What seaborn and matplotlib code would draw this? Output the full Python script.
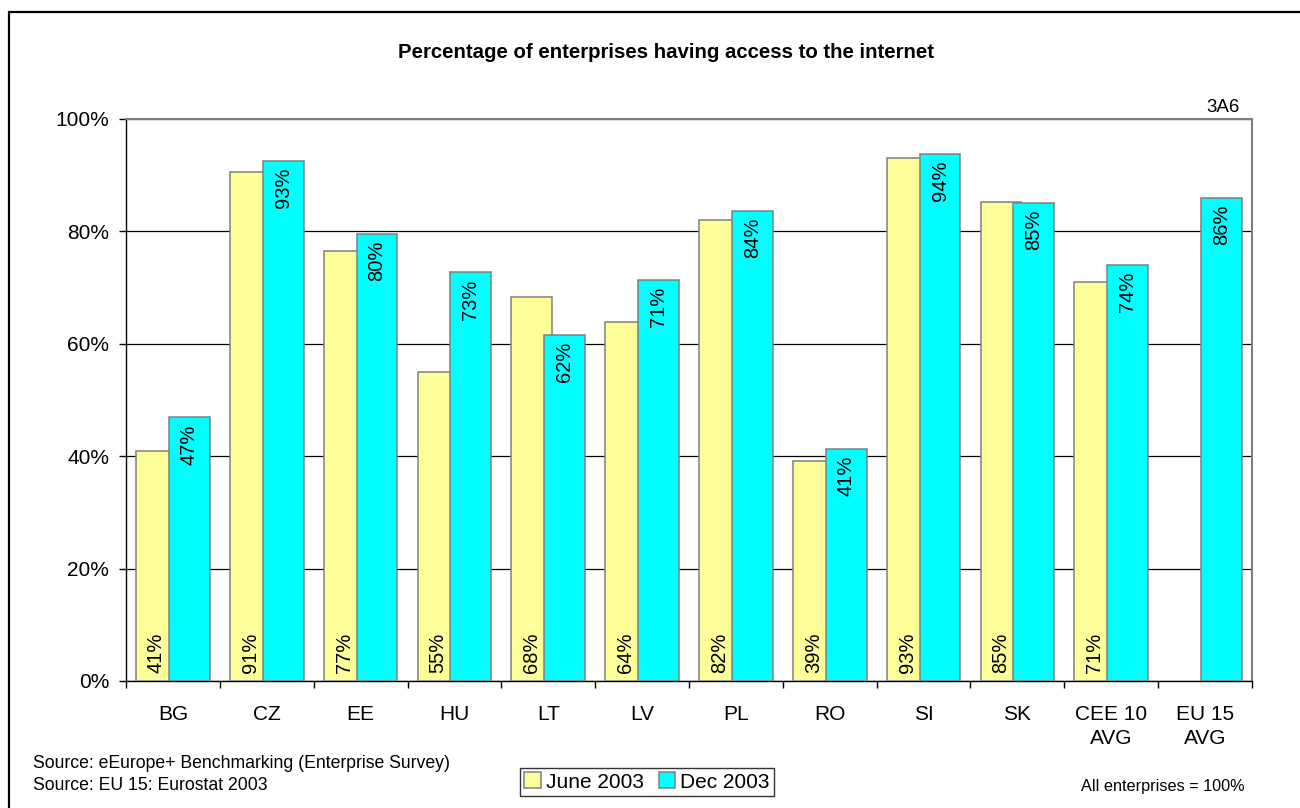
import numpy as np
import matplotlib
matplotlib.use("Agg")
import matplotlib.pyplot as plt
import seaborn as sns
from matplotlib.patches import Rectangle, Patch
from matplotlib.ticker import FuncFormatter

# Share of enterprises with internet access (%)
countries = ["BG", "CZ", "EE", "HU", "LT", "LV", "PL", "RO", "SI", "SK",
             "CEE 10\nAVG", "EU 15\nAVG"]
june_2003 = [40.9, 90.6, 76.6, 55.0, 68.3, 63.9, 82.1, 39.2, 93.1, 85.2, 71.0, np.nan]
dec_2003 = [46.9, 92.6, 79.6, 72.7, 61.6, 71.4, 83.6, 41.3, 93.8, 85.1, 74.0, 85.9]
series_names = ["June 2003", "Dec 2003"]
series_colors = ["#FFFF99", "#00FFFF"]
y_ticks = [0, 20, 40, 60, 80, 100]

sns.set_theme(style="white")
plt.rcParams["font.family"] = ["Liberation Sans", "DejaVu Sans"]
plt.rcParams.update({"text.color": "black", "xtick.color": "black",
                     "ytick.color": "black", "axes.labelcolor": "black"})

W, H = 1300, 808
fig = plt.figure(figsize=(W / 100, H / 100), dpi=100)
fig.patch.set_facecolor("white")
ax = fig.add_axes([126 / W, 1 - 681 / H, (1252 - 126) / W, (681 - 119) / H])

edge = "#808080"
bar_w = 0.435
offset = 0.175
all_series = [june_2003, dec_2003]
for vals, color, shift in zip(all_series, series_colors, [-offset, offset]):
    n_before = len(ax.patches)
    sns.barplot(x=countries, y=vals, order=countries, color=color, width=bar_w,
                edgecolor=edge, linewidth=1.1, saturation=1, errorbar=None,
                ax=ax, zorder=3)
    # overlapping clustered bars: move each series off the category centre
    for p in ax.patches[n_before:]:
        p.set_x(p.get_x() + shift)

# value labels, rotated: June at the foot of the bar, December at its top
for i, v in enumerate(june_2003):
    if not np.isnan(v):
        ax.text(i - offset, 1.5, f"{v:.0f}%", rotation=90, ha="center",
                va="bottom", fontsize=14.5, color="black", zorder=4)
for i, v in enumerate(dec_2003):
    if not np.isnan(v):
        ax.text(i + offset, v - 1.2, f"{v:.0f}%", rotation=90, ha="center",
                va="top", fontsize=14.5, color="black", zorder=4)

ax.set_xlim(-0.5, len(countries) - 0.5)
ax.set_ylim(0, 100)
ax.set_yticks(y_ticks)
ax.yaxis.set_major_formatter(FuncFormatter(lambda v, _: f"{v:.0f}%"))
ax.set_xlabel("")
ax.set_ylabel("")

# tick marks between categories, labels centred under each category
ax.set_xticks(np.arange(-0.5, len(countries), 1))
ax.set_xticklabels([])
ax.set_xticks(np.arange(len(countries)), minor=True)
ax.set_xticklabels(countries, minor=True, fontsize=15, linespacing=1.35)
ax.tick_params(axis="x", which="major", bottom=True, length=5, width=1,
               color="black", direction="out")
ax.tick_params(axis="x", which="minor", bottom=True, length=0, pad=17)
ax.tick_params(axis="y", left=True, length=5, width=1, color="black",
               direction="out", labelsize=15, pad=7)

ax.set_axisbelow(True)
ax.yaxis.grid(True, color="black", linewidth=0.9)
ax.xaxis.grid(False)
for side in ["left", "bottom"]:
    ax.spines[side].set_color("black")
    ax.spines[side].set_linewidth(1.0)
for side in ["top", "right"]:
    ax.spines[side].set_color(edge)
    ax.spines[side].set_linewidth(1.5)
ax.set_facecolor("white")

# outer frame of the chart
fig.patches.append(Rectangle((9 / W, -0.02), 1.05, (H - 12) / H + 0.02,
                             transform=fig.transFigure, fill=False,
                             edgecolor="black", linewidth=1.6))

fig.text(666 / W, 1 - 53 / H, "Percentage of enterprises having access to the internet",
         ha="center", va="center", fontsize=14.7, fontweight="bold")
fig.text(1240 / W, 1 - 107 / H, "3A6", ha="right", va="center", fontsize=13.5)
fig.text(33 / W, 1 - 763 / H, "Source: eEurope+ Benchmarking (Enterprise Survey)",
         ha="left", va="center", fontsize=12.7)
fig.text(33 / W, 1 - 785 / H, "Source: EU 15: Eurostat 2003",
         ha="left", va="center", fontsize=12.7)
fig.text(1245 / W, 1 - 787 / H, "All enterprises = 100%",
         ha="right", va="center", fontsize=11.7)

handles = [Patch(facecolor=c, edgecolor=edge, linewidth=1.1) for c in series_colors]
leg = fig.legend(handles, series_names, loc="center",
                 bbox_to_anchor=(647 / W, 1 - 782 / H), ncol=2, frameon=True,
                 fancybox=False, edgecolor="black", fontsize=15,
                 handlelength=0.8, handleheight=0.8, handletextpad=0.25,
                 columnspacing=0.7, borderpad=0.2, borderaxespad=0)
leg.get_frame().set_linewidth(1.0)

fig.savefig("out.png", dpi=100, facecolor="white")
